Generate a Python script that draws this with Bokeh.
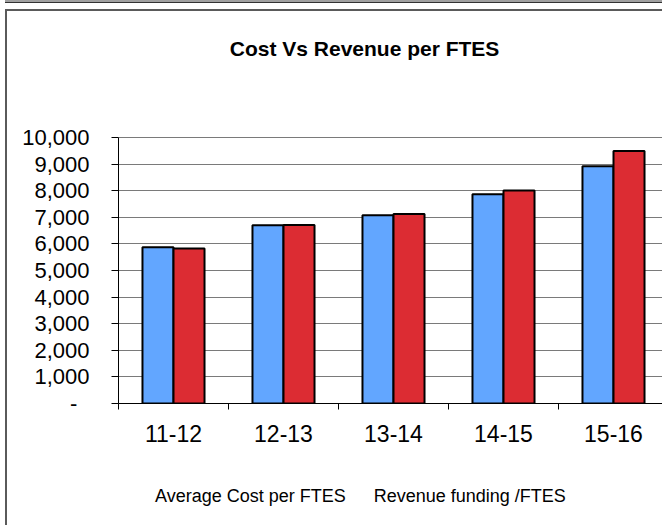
from bokeh.plotting import figure
from bokeh.layouts import column
from bokeh.models import (ColumnDataSource, FixedTicker, Legend, LegendItem, Range1d, Label,
                          CDSView, IndexFilter)
from bokeh.embed import file_html
from bokeh.resources import INLINE

years = ["11-12", "12-13", "13-14", "14-15", "15-16"]
avg_cost = [5870, 6700, 7080, 7870, 8920]
revenue = [5830, 6710, 7120, 8010, 9490]
y_ticks = [0, 1000, 2000, 3000, 4000, 5000, 6000, 7000, 8000, 9000, 10000]
y_labels = ["-\u00a0\u00a0", "1,000", "2,000", "3,000", "4,000", "5,000", "6,000", "7,000", "8,000", "9,000", "10,000"]
title_text = "Cost Vs  Revenue per FTES"
series_names = ["Average Cost per FTES", "Revenue funding /FTES"]
series_colors = ["#62a6ff", "#dc2c33"]

centers = [i + 0.5 for i in range(len(years))]
src = ColumnDataSource(dict(
    xb=[c - 0.141 for c in centers],
    xr=[c + 0.141 for c in centers],
    cost=avg_cost,
    rev=revenue,
))

FONT = "Liberation Sans"

# geometry (pixels); content origin lands at page (7, 11)
W = 655
FRAME_LEFT = 111
FRAME_TOP = 10
FRAME_BOTTOM_Y = 392          # content y of the value 0 line (page 403)
BOTTOM = 60
H1 = FRAME_BOTTOM_Y + BOTTOM
H2 = 514 - H1
frame_h = FRAME_BOTTOM_Y - FRAME_TOP
px_per_unit = 266 / 10000
y_top = frame_h / px_per_unit
x_end = (W - FRAME_LEFT) / 110

p = figure(width=W, height=H1, output_backend="svg", toolbar_location=None,
           x_range=Range1d(0, x_end), y_range=Range1d(0, y_top),
           min_border_left=FRAME_LEFT, min_border_right=0, min_border_top=FRAME_TOP,
           min_border_bottom=BOTTOM)
p.outline_line_color = None
p.background_fill_color = "white"
p.border_fill_color = "white"

rb = p.vbar(x="xb", top="cost", width=0.282, source=src, fill_color=series_colors[0],
            line_color="black", line_width=2)
rr = p.vbar(x="xr", top="rev", width=0.282, source=src, fill_color=series_colors[1],
            line_color="black", line_width=2)

p.add_layout(Label(x=(367 - 118) / 110, y=10000 + (137 - 48) / px_per_unit,
                   text=title_text, text_align="center", text_baseline="alphabetic",
                   text_font=FONT, text_font_size="21px", text_font_style="bold",
                   text_color="black"))

p.yaxis.ticker = FixedTicker(ticks=y_ticks)
p.yaxis.bounds = (0, 10000)
p.yaxis.major_label_overrides = {t: l for t, l in zip(y_ticks, y_labels)}
p.yaxis.major_label_text_font = FONT
p.yaxis.major_label_text_font_size = "22px"
p.yaxis.major_label_text_color = "black"
p.yaxis.major_tick_out = 7
p.yaxis.major_tick_in = 0
p.yaxis.minor_tick_line_color = None
p.yaxis.major_label_standoff = 22
p.yaxis.axis_line_color = "black"
p.yaxis.major_tick_line_color = "black"

p.xaxis.ticker = FixedTicker(ticks=centers, minor_ticks=[0, 1, 2, 3, 4, 5])
p.xaxis.major_label_overrides = {c: y for c, y in zip(centers, years)}
p.xaxis.major_label_text_font = FONT
p.xaxis.major_label_text_font_size = "23px"
p.xaxis.major_label_text_color = "black"
p.xaxis.major_tick_line_color = None
p.xaxis.major_tick_out = 0
p.xaxis.major_tick_in = 0
p.xaxis.minor_tick_out = 6
p.xaxis.minor_tick_in = 0
p.xaxis.minor_tick_line_color = "black"
p.xaxis.major_label_standoff = 15
p.xaxis.axis_line_color = "black"

p.xgrid.grid_line_color = None
p.ygrid.ticker = FixedTicker(ticks=y_ticks)
p.ygrid.grid_line_color = "#7a7a7a"
p.ygrid.grid_line_width = 1

# legend strip: same series and styling; a view with no rows keeps the bars
# from being drawn here, so only the legend entries show
p2 = figure(width=W, height=H2, output_backend="svg", toolbar_location=None,
            x_range=Range1d(0, x_end), y_range=Range1d(0, 1),
            x_axis_location=None, y_axis_location=None,
            min_border_left=0, min_border_right=0, min_border_top=0, min_border_bottom=0)
p2.outline_line_color = None
p2.xgrid.grid_line_color = None
p2.ygrid.grid_line_color = None
p2.border_fill_color = "white"
p2.background_fill_color = "white"
lb = p2.vbar(x="xb", top="cost", width=0.282, source=src, fill_color=series_colors[0],
             line_color="black", line_width=2, view=CDSView(filter=IndexFilter(indices=[])))
lr = p2.vbar(x="xr", top="rev", width=0.282, source=src, fill_color=series_colors[1],
             line_color="black", line_width=2, view=CDSView(filter=IndexFilter(indices=[])))
legend = Legend(items=[LegendItem(label=series_names[0], renderers=[lb]),
                       LegendItem(label=series_names[1], renderers=[lr])],
                orientation="horizontal", location=(24, 18),
                label_text_font=FONT, label_text_font_size="18px",
                label_text_color="black",
                glyph_width=10, glyph_height=10, label_standoff=3, spacing=15,
                padding=0, margin=0, border_line_color=None, background_fill_alpha=0,
                label_height=12)
p2.add_layout(legend)

lay = column(p, p2, spacing=0)
lay.styles = {"position": "relative", "left": "5px", "top": "9px",
              "border-left": "2px solid #5a5a5a", "border-top": "2px solid #5a5a5a",
              "box-shadow": "0 -6px 0 0 white, 0 -7px 0 0 #333333, 0 -9px 0 0 #a0a0a0"}

open("out.html", "w").write(file_html(lay, INLINE))
